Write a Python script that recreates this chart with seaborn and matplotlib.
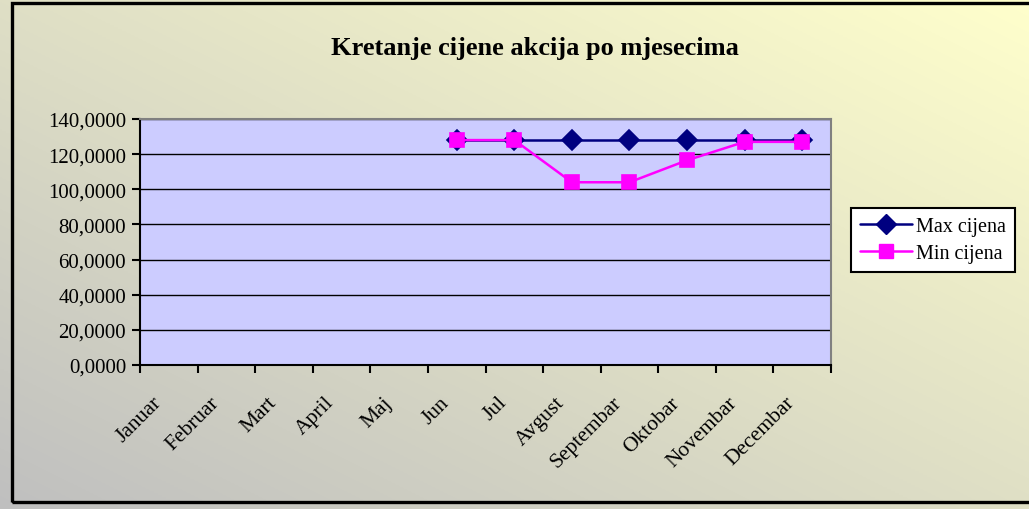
import numpy as np
import pandas as pd
import matplotlib
matplotlib.use("Agg")
import matplotlib.pyplot as plt
import matplotlib.transforms as mtransforms
from matplotlib.patches import Rectangle
from matplotlib.ticker import FuncFormatter, MultipleLocator
import seaborn as sns

months = ["Januar", "Februar", "Mart", "April", "Maj", "Jun", "Jul",
          "Avgust", "Septembar", "Oktobar", "Novembar", "Decembar"]
max_price = [np.nan, np.nan, np.nan, np.nan, np.nan,
             128.0, 128.0, 128.0, 128.0, 128.0, 128.0, 128.0]
min_price = [np.nan, np.nan, np.nan, np.nan, np.nan,
             128.0, 128.0, 104.0, 104.0, 116.5, 127.0, 127.0]
series_names = ["Max cijena", "Min cijena"]

sns.set_theme(style="white")
plt.rcParams["font.family"] = ["Liberation Serif", "DejaVu Serif"]
plt.rcParams["text.color"] = "black"
plt.rcParams["xtick.color"] = "black"
plt.rcParams["ytick.color"] = "black"
plt.rcParams["xtick.labelcolor"] = "black"
plt.rcParams["ytick.labelcolor"] = "black"

df = pd.DataFrame({
    "idx": list(range(12)) * 2,
    "value": max_price + min_price,
    "series": [series_names[0]] * 12 + [series_names[1]] * 12,
})
df = df.dropna()

fig = plt.figure(figsize=(10.29, 5.10), dpi=100)

# diagonal background gradient: grey at bottom-left to pale yellow at top-right
bg = fig.add_axes([0, 0, 1, 1], zorder=-5)
h, w = 255, 515
u = np.linspace(0, 1, w)[None, :]
v = np.linspace(1, 0, h)[:, None]
t = (u + v) / 2
c0 = np.array([0.75, 0.75, 0.75])
c1 = np.array([1.0, 1.0, 0.80])
img = c0[None, None, :] * (1 - t[..., None]) + c1[None, None, :] * t[..., None]
bg.imshow(img, aspect="auto", extent=[0, 1, 0, 1])
bg.set_axis_off()

# outer chart frame
fig.patches.append(Rectangle((12 / 1029, 7 / 510), 1.2, (503 - 4) / 510,
                             transform=fig.transFigure, fill=False,
                             edgecolor="black", linewidth=2.4, zorder=-1))

ax = fig.add_axes([140 / 1029, 1 - 366 / 510, (831 - 140) / 1029, (366 - 120) / 510], zorder=1)
ax.set_facecolor("#CCCCFF")

palette = {"Max cijena": "#000080", "Min cijena": "#FF00FF"}
sns.lineplot(data=df, x="idx", y="value", hue="series", style="series",
             markers={"Max cijena": "D", "Min cijena": "s"}, dashes=False,
             palette=palette, ax=ax, linewidth=1.8, markersize=10,
             markeredgewidth=1.2, legend=False, zorder=3)
for line, ec in zip(ax.lines, ["#000080", "#FF00FF"]):
    line.set_markeredgecolor(ec)
    line.set_markerfacecolor(ec)

ax.set_xlim(-0.5, 11.5)
ax.set_ylim(0, 140)
ax.yaxis.set_major_locator(MultipleLocator(20))
ax.yaxis.set_major_formatter(FuncFormatter(lambda val, pos: f"{val:.4f}".replace(".", ",")))
ax.grid(axis="y", color="black", linewidth=1.0)
ax.grid(axis="x", visible=False)
ax.set_axisbelow(True)

ax.set_xticks(np.arange(-0.5, 12, 1))
ax.set_xticklabels([])
ax.set_xticks(range(12), months, minor=True)
ax.tick_params(axis="x", which="major", direction="out", length=6, width=1.5, color="black", bottom=True)
ax.tick_params(axis="x", which="minor", length=0, pad=20, labelsize=15.5)
ax.tick_params(axis="y", direction="out", length=6, width=1.5, color="black", left=True, labelsize=15, pad=4)
offset = mtransforms.ScaledTranslation(-17 / 100, 0, fig.dpi_scale_trans)
for lab in ax.get_xticklabels(minor=True):
    lab.set_rotation(45)
    lab.set_ha("right")
    lab.set_va("top")
    lab.set_rotation_mode("anchor")
    lab.set_transform(lab.get_transform() + offset)

ax.set_xlabel("")
ax.set_ylabel("")
for side in ["left", "bottom"]:
    ax.spines[side].set_color("black")
    ax.spines[side].set_linewidth(1.5)
for side in ["top", "right"]:
    ax.spines[side].set_color("#808080")
    ax.spines[side].set_linewidth(1.5)

fig.text(535 / 1029, 1 - 49 / 510, "Kretanje cijene akcija po mjesecima",
         ha="center", va="center", fontsize=19, fontweight="bold", color="black")

handles = [
    plt.Line2D([], [], color="#000080", marker="D", markersize=10, linewidth=1.8),
    plt.Line2D([], [], color="#FF00FF", marker="s", markersize=10, linewidth=1.8),
]
leg = fig.legend(handles, series_names, loc="center left",
                 bbox_to_anchor=(851 / 1029, 1 - 241 / 510),
                 frameon=True, fancybox=False, framealpha=1, fontsize=14.5,
                 handlelength=2.6, borderpad=0.45, labelspacing=0.35,
                 handletextpad=0.2, borderaxespad=0)
leg.get_frame().set_edgecolor("black")
leg.get_frame().set_linewidth(1.5)
leg.get_frame().set_facecolor("white")
for txt in leg.get_texts():
    txt.set_color("black")

fig.savefig("out.png", dpi=100)
